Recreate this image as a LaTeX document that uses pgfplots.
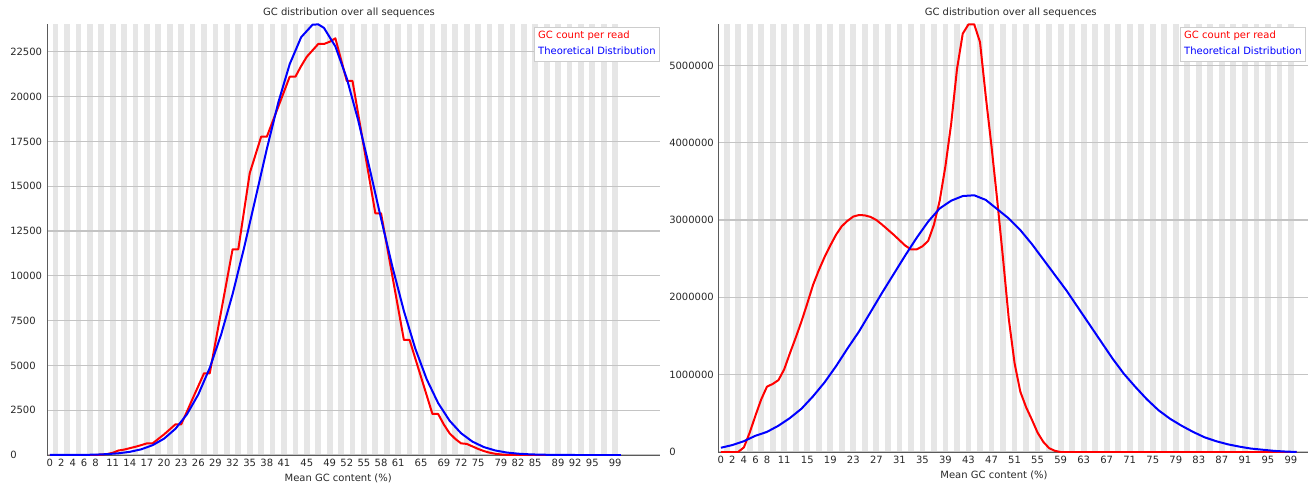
\documentclass[border=0pt]{standalone}
\usepackage{pgfplots}
\pgfplotsset{compat=1.18}
\usepackage{fontspec}
\setmainfont{DejaVu Sans}
\definecolor{stripe}{RGB}{230,230,230}
\definecolor{gridc}{RGB}{196,196,196}
\definecolor{axc}{RGB}{90,90,90}
\definecolor{legc}{RGB}{205,205,205}
\definecolor{txt}{RGB}{40,40,40}
\newcommand{\ff}{\fontsize{7.5}{9}\selectfont}
\pgfplotsset{
  fq/.style={
    set layers, scale only axis, anchor=south west,
    axis x line*=bottom, axis y line*=left,
    axis line style={-, draw=axc, line width=0.75pt},
    every outer x axis line/.append style={-},
    every outer y axis line/.append style={-},
    major tick length=0pt,
    ymajorgrids, grid style={gridc, line width=0.9pt},
    xmin=-0.5, ymin=0,
    /pgf/number format/assume math mode=true,
    /pgf/number format/set thousands separator={},
    /pgf/number format/fixed,
    scaled y ticks=false,
    tick label style={font=\ff, text=txt},
    xticklabel style={anchor=north, inner sep=0pt, yshift=-2.6pt},
    yticklabel style={anchor=west, inner sep=0pt},
    title style={font=\ff, text=txt, anchor=center},
    xlabel style={font=\ff, text=txt, anchor=center},
    legend image code/.code={},
    legend cell align=left,
    legend style={at={(1,1)}, anchor=north east, yshift=-2.25pt, draw=legc, fill=white,
      font=\ff, inner sep=1.5pt, row sep=1.6pt,
      nodes={inner sep=1.6pt}},
    title={GC distribution over all sequences},
    xlabel={Mean GC content (\%)},
  }
}
\begin{document}
\begin{tikzpicture}
% ---------------- left plot ----------------
\begin{axis}[fq,
  at={(35.25pt,22.5pt)}, width=459.75pt, height=323.25pt,
  xmax=106.85, ymax=24050,
  xtick={0,2,4,6,8,11,14,17,20,23,26,29,32,35,38,41,45,49,52,55,58,61,65,69,72,75,79,82,85,89,92,95,99},
  ytick={0,2500,5000,7500,10000,12500,15000,17500,20000,22500},
  yticklabel style={xshift=-27.75pt},
  title style={at={(0.4927,1)}, yshift=2.25pt},
  xlabel style={at={(axis description cs:0.475,0)}, yshift=-17.25pt},
]
\begin{pgfonlayer}{axis background}
\pgfplotsinvokeforeach{1,3,...,99}{\fill[stripe] (axis cs:{#1-0.5},0) rectangle (axis cs:{#1+0.5},24050);}
\end{pgfonlayer}
\addplot[red, line width=1.5pt, line join=round] coordinates {
(0,0)(1,0)(2,0)(3,0)(4,0)(5,0)(6,0)(7,0)(8,0)(9,20)(10,50)(11,120)(12,250)(13,300)(14,380)(15,460)(16,550)(17,650)(18,650)(19,900)(20,1150)(21,1430)(22,1713)(23,1713)(24,2420)(25,3140)(26,3850)(27,4559)(28,4559)(29,6289)(30,8019)(31,9748)(32,11478)(33,11478)(34,13600)(35,15719)(36,16740)(37,17761)(38,17761)(39,18600)(40,19430)(41,20270)(42,21109)(43,21109)(44,21700)(45,22225)(46,22580)(47,22934)(48,22934)(49,23060)(50,23250)(51,22060)(52,20870)(53,20870)(54,19024)(55,17178)(56,15333)(57,13487)(58,13487)(59,11720)(60,9950)(61,8190)(62,6417)(63,6417)(64,5380)(65,4350)(66,3320)(67,2288)(68,2288)(69,1700)(70,1210)(71,900)(72,650)(73,620)(74,480)(75,340)(76,220)(77,130)(78,70)(79,30)(80,10)(81,0)(90,0)(100,0)
};
\addlegendentry{\textcolor{red}{GC count per read}}
\addplot[blue, line width=1.5pt, line join=round] coordinates {
(0,0)(2,1)(4,3)(6,8)(8,20)(10,49)(12,95)(14,177)(16,317)(18,548)(20,913)(22,1465)(24,2267)(26,3382)(28,4859)(30,6727)(32,8976)(34,11542)(36,14305)(38,17085)(40,19664)(42,21808)(44,23310)(46,24010)(47,24030)(48,23833)(50,22799)(52,21017)(54,18670)(56,15986)(58,13189)(60,10486)(62,8035)(64,5933)(66,4221)(68,2896)(70,1914)(72,1218)(74,747)(76,442)(78,252)(80,138)(82,73)(84,37)(86,18)(88,8)(90,3)(92,0)(100,0)
};
\addlegendentry{\textcolor{blue}{Theoretical Distribution}}
\end{axis}
% ---------------- right plot ----------------
\begin{axis}[fq,
  at={(538.5pt,24.75pt)}, width=450pt, height=321pt,
  xmax=103.7, ymax=5535000,
  xtick={0,2,4,6,8,11,15,19,23,27,31,35,39,43,47,51,55,59,63,67,71,75,79,83,87,91,95,99},
  ytick={0,1000000,2000000,3000000,4000000,5000000},
  yticklabel style={xshift=-36.75pt},
  title style={at={(0.4878,1)}, yshift=2.25pt},
  xlabel style={at={(axis description cs:0.46,0)}, yshift=-17.25pt},
  legend style={xshift=-9pt},
]
\begin{pgfonlayer}{axis background}
\pgfplotsinvokeforeach{1,3,...,99}{\fill[stripe] (axis cs:{#1-0.5},0) rectangle (axis cs:{#1+0.5},5535000);}
\end{pgfonlayer}
\addplot[red, line width=1.5pt, line join=round] coordinates {
(0,0)(1,0)(2,0)(3,0)(4,60000)(5,250000)(6,470000)(7,680000)(8,845000)(9,880000)(10,930000)(11,1070000)(12,1280000)(13,1480000)(14,1690000)(15,1920000)(16,2160000)(17,2350000)(18,2520000)(19,2670000)(20,2810000)(21,2920000)(22,2990000)(23,3045000)(24,3065000)(25,3060000)(26,3040000)(27,3000000)(28,2940000)(29,2875000)(30,2810000)(31,2740000)(32,2670000)(33,2620000)(34,2620000)(35,2660000)(36,2730000)(37,2940000)(38,3250000)(39,3700000)(40,4250000)(41,4950000)(42,5410000)(43,5530000)(44,5530000)(45,5300000)(46,4600000)(47,3950000)(48,3250000)(49,2500000)(50,1720000)(51,1150000)(52,780000)(53,580000)(54,420000)(55,250000)(56,130000)(57,50000)(58,15000)(59,0)(80,0)(100,0)
};
\addlegendentry{\textcolor{red}{GC count per read}}
\addplot[blue, line width=1.5pt, line join=round] coordinates {
(0,55000)(2,90000)(4,140000)(6,210000)(8,260000)(10,340000)(12,440000)(14,560000)(16,720000)(18,900000)(20,1110000)(22,1340000)(24,1560000)(26,1810000)(28,2060000)(30,2300000)(32,2540000)(34,2770000)(36,2980000)(38,3150000)(40,3250000)(42,3310000)(44,3320000)(46,3260000)(48,3140000)(50,3020000)(52,2870000)(54,2690000)(56,2490000)(58,2290000)(60,2090000)(62,1870000)(64,1650000)(66,1430000)(68,1210000)(70,1010000)(72,840000)(74,680000)(76,540000)(78,430000)(80,340000)(82,260000)(84,190000)(86,140000)(88,100000)(90,70000)(92,45000)(94,30000)(96,15000)(98,6000)(100,0)
};
\addlegendentry{\textcolor{blue}{Theoretical Distribution}}
\end{axis}
\pgfresetboundingbox
\useasboundingbox (0,0) rectangle (981pt,363.75pt);
\end{tikzpicture}
\end{document}
